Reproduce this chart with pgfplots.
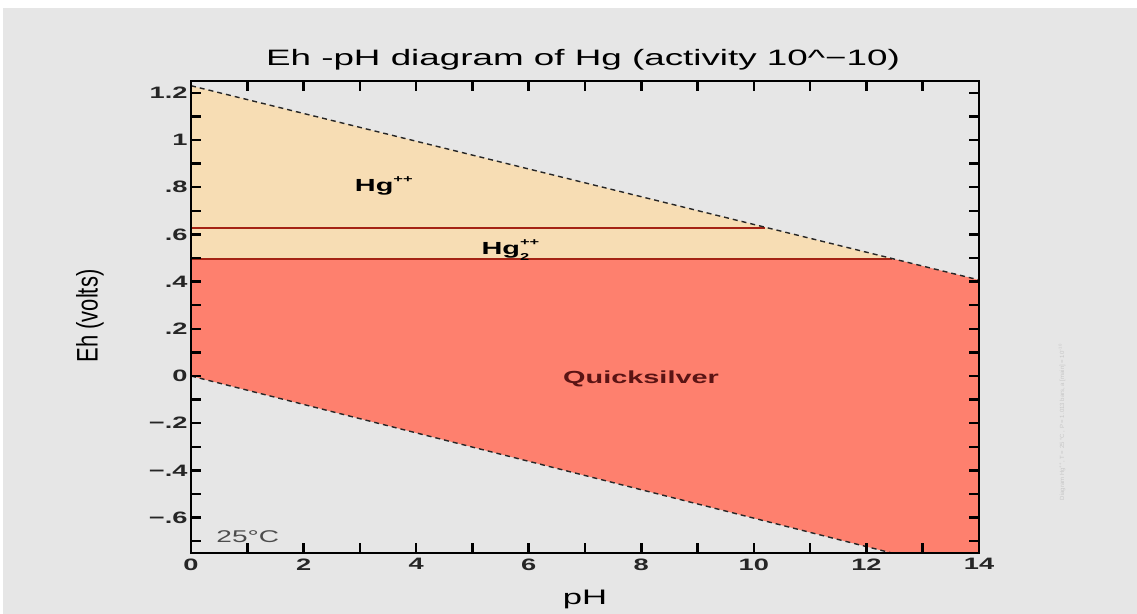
\documentclass[border=0pt]{standalone}
\usepackage{graphicx}
\usepackage{pgfplots}
\pgfplotsset{compat=1.18}
\usepackage{fontspec}
\setmainfont{Liberation Sans}[FakeStretch=1.65]
\newfontfamily\plainfont{Liberation Sans}
\definecolor{bg}{RGB}{230,230,230}
\definecolor{hgion}{RGB}{247,221,180}
\definecolor{quick}{RGB}{254,128,110}
\definecolor{bnd}{RGB}{165,35,20}
\definecolor{qtext}{RGB}{90,20,20}
\begin{document}
\begin{tikzpicture}
\fill[white] (-191bp,-61bp) rectangle (946bp,553bp);
\fill[bg] (-188bp,-61bp) rectangle (946bp,545bp);
\begin{axis}[
  at={(0,0)}, anchor=south west,
  scale only axis, width=788bp, height=472bp,
  xmin=0, xmax=14, ymin=-0.75, ymax=1.25,
  axis on top,
  axis line style={line width=2.8bp, black},
  tick style={line width=2.5bp, black},
  major tick length=10bp, minor tick length=10bp,
  tick align=inside,
  xtick={0,2,4,6,8,10,12,14},
  minor xtick={1,3,5,7,9,11,13},
  ytick={-0.6,-0.4,-0.2,0,0.2,0.4,0.6,0.8,1,1.2},
  minor ytick={-0.7,-0.5,-0.3,-0.1,0.1,0.3,0.5,0.7,0.9,1.1},
  xticklabels={0,2,4,6,8,10,12,14},
  yticklabels={−.6,−.4,−.2,0,.2,.4,.6,.8,1,1.2},
  ticklabel style={font=\fontsize{16.5bp}{18bp}\selectfont\bfseries, text=black!85},
  xticklabel style={yshift=-2bp},
]
\addplot[fill=hgion, draw=none] coordinates {(0,0.496) (0,1.23) (12.45,0.498)} -- cycle;
\addplot[fill=quick, draw=none] coordinates {(0,0.496) (12.45,0.498) (14,0.407) (14,-0.75) (12.45,-0.75) (0,0)} -- cycle;
\addplot[bnd, line width=2.4bp] coordinates {(0,0.628) (10.2,0.628)};
\addplot[bnd, line width=2.4bp] coordinates {(0,0.496) (12.45,0.496)};
\addplot[black!85, line width=1.4bp, dash pattern=on 5bp off 4bp] coordinates {(0,1.23) (14,0.407)};
\addplot[black!85, line width=1.4bp, dash pattern=on 5bp off 4bp] coordinates {(0,0) (12.45,-0.75)};
\node[anchor=base west, font=\fontsize{17.5bp}{20bp}\selectfont\bfseries] at (axis cs:2.85,0.78) {Hg\raisebox{0.55em}{\fontsize{10bp}{10bp}\selectfont ++}};
\node[anchor=base west, font=\fontsize{17.5bp}{20bp}\selectfont\bfseries] at (axis cs:5.1,0.513) {Hg\rlap{\raisebox{-0.3em}{\fontsize{10bp}{10bp}\selectfont 2}}\raisebox{0.55em}{\fontsize{10bp}{10bp}\selectfont ++}};
\node[anchor=base west, font=\fontsize{17.5bp}{20bp}\selectfont\bfseries, text=qtext] at (axis cs:6.55,-0.03) {Quicksilver};
\node[anchor=base west, font=\fontsize{17bp}{20bp}\selectfont, text=black!70] at (axis cs:0.39,-0.704) {25°C};
\end{axis}
\node[anchor=base] at (392bp,487bp) {\fontsize{22.3bp}{26bp}\selectfont Eh -pH diagram of Hg (activity 10\textasciicircum{}−10)};
\node[anchor=base] at (394bp,-51bp) {\fontsize{21bp}{24bp}\selectfont pH};
\node[rotate=90] at (-101bp,237bp) {\scalebox{1}[1.35]{\plainfont\fontsize{22bp}{26bp}\selectfont Eh (volts)}};
\node[rotate=90, text=black!22] at (871bp,131bp) {\plainfont\fontsize{6bp}{7bp}\selectfont Diagram Hg\textsuperscript{++}, T = 25 °C , P = 1.013 bars, a [main] = 10\textsuperscript{−10}};
\end{tikzpicture}
\end{document}
